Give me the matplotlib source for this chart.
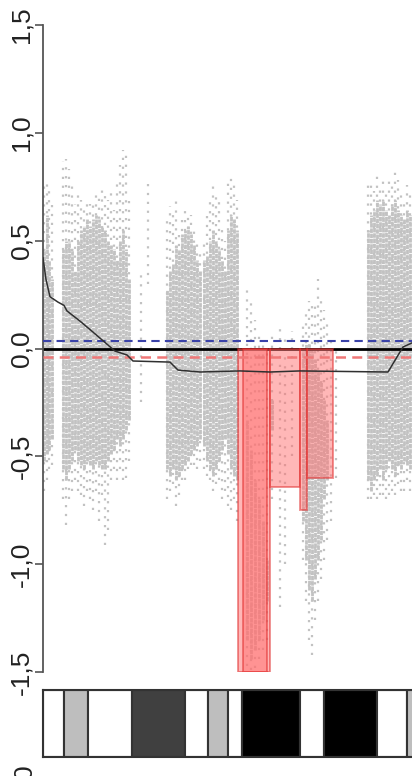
import numpy as np
import matplotlib
matplotlib.use("Agg")
import matplotlib.pyplot as plt

plt.rcParams['font.family'] = ['Liberation Sans', 'DejaVu Sans']

# probe columns: position (Mb), sparse top, dense top, dense bottom, sparse bottom (log ratio)
pos = [0.2, 0.7, 1.2, 1.7,
       4.0, 4.6, 5.2, 5.8, 6.4, 7.0,
       7.6, 8.2, 8.8, 9.4, 10.0, 10.6, 11.2, 11.8, 12.4, 13.0, 13.6, 14.2, 14.8, 15.4, 16.0, 16.6, 17.2,
       19.6, 21.0,
       24.8, 25.4, 26.0, 26.6, 27.2, 27.8, 28.4, 29.0, 29.6, 30.2, 30.8, 31.4,
       32.2, 32.8, 33.4, 34.0, 34.6, 35.2, 35.8, 36.4, 37.0, 37.6, 38.2, 38.8,
       40.8, 41.6, 42.4, 43.2, 44.0, 44.8, 45.8, 47.4, 48.4, 49.8,
       52.0, 52.6, 53.2, 53.8, 54.4, 55.0, 55.6, 56.2, 56.8, 57.6, 58.6,
       65.0, 65.6, 66.2, 66.8, 67.4, 68.0, 68.6, 69.2, 69.8, 70.4, 71.0, 71.6, 72.2, 72.8, 73.4]
sparse_hi = [0.78, 0.79, 0.73, 0.69,
             0.87, 0.88, 0.83, 0.76, 0.67, 0.73,
             0.69, 0.64, 0.69, 0.67, 0.69, 0.73, 0.71, 0.76, 0.71, 0.69, 0.73, 0.64, 0.78, 0.85, 0.92, 0.92, 0.69,
             0.35, 0.78,
             0.60, 0.66, 0.64, 0.69, 0.55, 0.60, 0.64, 0.62, 0.62, 0.57, 0.50, 0.45,
             0.50, 0.64, 0.69, 0.78, 0.73, 0.69, 0.55, 0.50, 0.78, 0.80, 0.78, 0.69,
             0.27, 0.22, 0.13, 0.08, 0.04, -0.01, 0.08, 0.10, 0.05, 0.08,
             0.13, 0.18, 0.22, 0.20, 0.22, 0.32, 0.22, 0.18, 0.13, 0.04, 0.00,
             0.76, 0.78, 0.73, 0.80, 0.76, 0.78, 0.73, 0.80, 0.76, 0.83, 0.78, 0.73, 0.69, 0.76, 0.71]
dense_hi = [0.46, 0.62, 0.41, 0.32,
            0.46, 0.50, 0.50, 0.46, 0.36, 0.50,
            0.55, 0.57, 0.60, 0.57, 0.60, 0.62, 0.60, 0.57, 0.55, 0.50, 0.48, 0.46, 0.41, 0.50, 0.55, 0.46, 0.32,
            0.0, 0.55,
            0.27, 0.36, 0.39, 0.48, 0.46, 0.53, 0.55, 0.57, 0.53, 0.48, 0.41, 0.36,
            0.41, 0.43, 0.50, 0.55, 0.50, 0.46, 0.41, 0.36, 0.55, 0.62, 0.60, 0.55,
            -0.33, -0.47, -0.61, -0.70, -0.80, -0.98, -0.24, -0.5, -0.4, -0.2,
            -0.01, 0.02, 0.02, -0.01, -0.05, -0.10, -0.15, -0.24, -0.33, -0.3, -0.3,
            0.55, 0.62, 0.64, 0.69, 0.67, 0.69, 0.64, 0.62, 0.67, 0.69, 0.64, 0.62, 0.60, 0.64, 0.62]
dense_lo = [-0.52, -0.49, -0.47, -0.42,
            -0.56, -0.61, -0.56, -0.52, -0.47, -0.52,
            -0.54, -0.56, -0.52, -0.54, -0.56, -0.52, -0.54, -0.56, -0.56, -0.52, -0.49, -0.47, -0.42, -0.45, -0.42, -0.38, -0.33,
            0.0, 0.55,
            -0.56, -0.59, -0.56, -0.61, -0.59, -0.56, -0.54, -0.52, -0.49, -0.47, -0.45, -0.42,
            -0.45, -0.52, -0.56, -0.59, -0.56, -0.52, -0.47, -0.42, -0.49, -0.56, -0.59, -0.61,
            -1.35, -1.44, -1.40, -1.35, -1.26, -1.17, -0.38, -0.5, -0.4, -0.2,
            -0.80, -0.98, -1.12, -1.17, -1.07, -0.98, -0.89, -0.70, -0.61, -0.3, -0.3,
            -0.61, -0.66, -0.61, -0.59, -0.56, -0.61, -0.56, -0.52, -0.56, -0.59, -0.54, -0.56, -0.52, -0.54, -0.56]
sparse_lo = [-0.66, -0.61, -0.56, -0.54,
             -0.70, -0.82, -0.70, -0.66, -0.61, -0.66,
             -0.68, -0.73, -0.66, -0.70, -0.75, -0.66, -0.80, -0.68, -0.91, -0.84, -0.61, -0.56, -0.61, -0.56, -0.61, -0.60, -0.52,
             -0.25, 0.30,
             -0.70, -0.66, -0.63, -0.73, -0.68, -0.61, -0.61, -0.56, -0.54, -0.54, -0.56, -0.52,
             -0.56, -0.59, -0.61, -0.66, -0.63, -0.61, -0.70, -0.66, -0.73, -0.75, -0.70, -0.80,
             -1.47, -1.49, -1.48, -1.44, -1.40, -1.35, -0.70, -1.20, -1.00, -0.50,
             -0.98, -1.17, -1.35, -1.42, -1.26, -1.17, -1.07, -0.98, -0.89, -0.80, -0.60,
             -0.70, -0.70, -0.68, -0.70, -0.68, -0.68, -0.70, -0.68, -0.66, -0.68, -0.63, -0.66, -0.66, -0.61, -0.66]

# smoothed profile
smooth_x = [0.0, 0.6, 1.4, 3.0, 4.2, 4.8, 7.4, 10.0, 12.8, 14.4, 16.8, 18.0, 25.4, 27.0,
            31.4, 39.4, 45.4, 51.4, 69.0, 72.0, 73.8]
smooth_y = [0.42, 0.32, 0.24, 0.215, 0.20, 0.174, 0.127, 0.076, 0.02, -0.012, -0.03, -0.058,
            -0.063, -0.1, -0.109, -0.104, -0.109, -0.104, -0.109, 0.007, 0.026]

# called losses: start, end (Mb), segment mean
seg_start = [39.0, 40.0, 45.4, 51.4, 52.8]
seg_end = [45.4, 44.8, 51.4, 52.8, 58.0]
seg_mean = [-1.5, -1.5, -0.64, -0.75, -0.60]

gain_thr = 0.035
loss_thr = -0.04

# cytobands
band_edges = [0.0, 4.2, 9.0, 17.8, 28.4, 33.0, 37.0, 39.8, 51.4, 56.2, 66.8, 72.8, 80.0]
band_cols = ['white', '#bebebe', 'white', '#404040', 'white', '#bebebe', 'white',
             'black', 'white', 'black', 'white', '#bebebe']

W, H = 412, 776
fig = plt.figure(figsize=(W / 100, H / 100), dpi=100)
ax = fig.add_axes([43 / W, (H - 672) / H, (W - 43) / W, (672 - 25) / H])

gray = '#c2c2c2'
ax.vlines(pos, sparse_lo, sparse_hi, colors=gray, linewidth=1.6,
          linestyles=[(0, (1, 3))], zorder=1)
ax.vlines(pos, dense_lo, dense_hi, colors=gray, linewidth=2.0,
          linestyles=[(0, (1.6, 0.3))], zorder=1)

ax.axhline(0, color='black', lw=2, zorder=2)
ax.axhline(gain_thr, color='#3a42a8', lw=1.5, dashes=(4, 2.5), zorder=4)
ax.axhline(loss_thr, color='#f07878', lw=1.8, dashes=(4, 2.5), zorder=4)

for s, e, m in zip(seg_start, seg_end, seg_mean):
    ax.bar(s, m, width=e - s, align='edge', color='#ff7070', alpha=0.5,
           edgecolor='#e02828', linewidth=1.4, zorder=3)

ax.plot(smooth_x, smooth_y, color='#303030', lw=1.1, zorder=5)

ax.set_xlim(0, 73.8)
ax.set_ylim(-1.5, 1.5)
for side in ['top', 'right', 'bottom']:
    ax.spines[side].set_visible(False)
ax.spines['left'].set_color('#555555')
ax.spines['left'].set_linewidth(1.3)
ax.set_xticks([])
yt = [-1.5, -1.0, -0.5, 0.0, 0.5, 1.0, 1.5]
ax.set_yticks(yt)
ax.set_yticklabels([f"{v:.1f}".replace('.', ',') for v in yt], rotation=90,
                   va='center', fontsize=19, color='#222222')
ax.tick_params(axis='y', length=6, width=1.2, color='#555555', pad=1)

# ideogram
ax2 = fig.add_axes([43 / W, (H - 757) / H, (W - 43) / W, (757 - 690) / H])
for i, c in enumerate(band_cols):
    ax2.axvspan(band_edges[i], band_edges[i + 1], color=c, ec='#333333', lw=1.5)
ax2.set_xlim(0, 73.8)
ax2.set_ylim(0, 1)
ax2.set_xticks([])
ax2.set_yticks([])
for side in ['top', 'bottom', 'left']:
    ax2.spines[side].set_color('#333333')
    ax2.spines[side].set_linewidth(1.5)
ax2.spines['right'].set_visible(False)

fig.text(37 / W, 1 - 764 / H, "0", rotation=90, ha='right', va='top',
         fontsize=19, color='#222222')

fig.savefig("out.png", dpi=100)
